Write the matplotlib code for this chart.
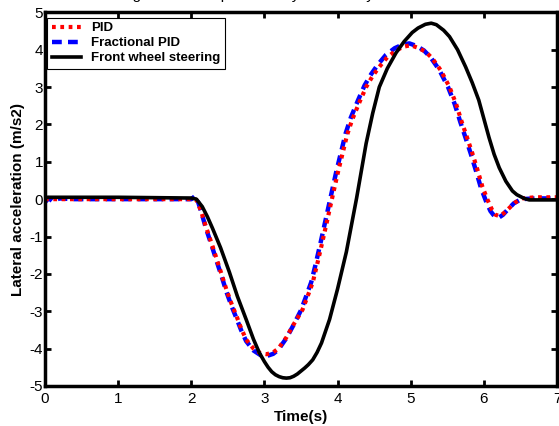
import matplotlib.pyplot as plt

plt.rcParams['font.family'] = ['Liberation Sans', 'DejaVu Sans']
plt.rcParams['axes.unicode_minus'] = False

# front wheel steering (black)
t_fws = [0.0, 1.0, 2.0, 2.07, 2.15, 2.22, 2.29, 2.4, 2.52, 2.63, 2.75, 2.85, 2.93, 3.0, 3.05,
         3.1, 3.15, 3.2, 3.25, 3.3, 3.35, 3.4, 3.45, 3.5, 3.55, 3.6, 3.66, 3.72, 3.78,
         3.89, 4.0, 4.12, 4.26, 4.39, 4.48, 4.57, 4.68, 4.8, 4.91, 5.02, 5.1, 5.2,
         5.28, 5.35, 5.45, 5.53, 5.64, 5.75, 5.84, 5.93, 6.0, 6.07, 6.14, 6.21, 6.3,
         6.39, 6.45, 6.55, 6.62, 7.0]
a_fws = [0.05, 0.05, 0.03, 0.0, -0.2, -0.47, -0.78, -1.3, -1.95, -2.6, -3.22, -3.75, -4.11, -4.35, -4.5,
         -4.62, -4.7, -4.75, -4.78, -4.79, -4.78, -4.74, -4.68, -4.6, -4.52, -4.43, -4.3, -4.1, -3.85,
         -3.22, -2.4, -1.41, 0.03, 1.49, 2.3, 3.0, 3.5, 3.92, 4.22, 4.46, 4.58, 4.68,
         4.71, 4.67, 4.52, 4.35, 4.0, 3.54, 3.12, 2.65, 2.15, 1.65, 1.2, 0.84, 0.48,
         0.22, 0.12, 0.02, -0.02, -0.02]

# PID (red dotted)
t_pid = [0.0, 1.0, 2.0, 2.07, 2.13, 2.2, 2.28, 2.35, 2.42, 2.48, 2.55, 2.62, 2.68, 2.75,
         2.85, 2.95, 3.03, 3.12, 3.19, 3.3, 3.4, 3.52, 3.59, 3.66, 3.72, 3.79, 3.86,
         3.93, 4.0, 4.07, 4.13, 4.2, 4.3, 4.39, 4.48, 4.57, 4.68, 4.8, 4.9, 5.0, 5.1,
         5.2, 5.29, 5.41, 5.53, 5.62, 5.7, 5.77, 5.84, 5.91, 5.98, 6.05, 6.11, 6.16,
         6.21, 6.27, 6.34, 6.42, 6.52, 6.7, 7.0]
a_pid = [0.0, 0.0, 0.0, -0.02, -0.3, -0.74, -1.2, -1.62, -2.05, -2.42, -2.8, -3.14, -3.45, -3.76,
         -4.0, -4.13, -4.15, -4.1, -4.0, -3.7, -3.35, -2.96, -2.6, -2.23, -1.75, -1.16, -0.55,
         0.07, 0.68, 1.24, 1.72, 2.13, 2.6, 3.0, 3.3, 3.54, 3.8, 3.98, 4.08, 4.12, 4.05,
         3.95, 3.78, 3.45, 3.0, 2.55, 2.05, 1.65, 1.24, 0.8, 0.33, -0.02, -0.28, -0.42,
         -0.45, -0.38, -0.25, -0.1, 0.02, 0.05, 0.05]

# fractional PID (blue dashed)
t_fpid = [0.0, 0.05, 0.1, 0.2, 0.4, 1.0, 2.0, 2.05, 2.08, 2.13, 2.2, 2.28, 2.35, 2.42, 2.48,
          2.55, 2.62, 2.68, 2.75, 2.85, 2.95, 3.03, 3.12, 3.19, 3.3, 3.4, 3.5, 3.57,
          3.64, 3.7, 3.77, 3.84, 3.91, 3.98, 4.05, 4.11, 4.18, 4.28, 4.37, 4.46, 4.55,
          4.66, 4.78, 4.88, 4.98, 5.08, 5.18, 5.27, 5.39, 5.51, 5.6, 5.68, 5.75, 5.82,
          5.89, 5.96, 6.03, 6.09, 6.15, 6.2, 6.26, 6.33, 6.41, 6.51, 6.7, 7.0]
a_fpid = [-0.08, 0.03, -0.05, 0.02, 0.0, 0.0, 0.0, 0.08, 0.0, -0.3, -0.78, -1.25, -1.68, -2.1, -2.48,
          -2.86, -3.2, -3.5, -3.8, -4.05, -4.18, -4.2, -4.14, -4.03, -3.72, -3.36, -2.97, -2.6,
          -2.22, -1.74, -1.14, -0.52, 0.1, 0.72, 1.28, 1.76, 2.18, 2.65, 3.05, 3.35, 3.6,
          3.86, 4.04, 4.13, 4.17, 4.1, 3.98, 3.8, 3.46, 3.0, 2.55, 2.05, 1.64, 1.22,
          0.77, 0.3, -0.06, -0.32, -0.47, -0.5, -0.42, -0.27, -0.11, 0.0, 0.02, 0.02]

fig = plt.figure(figsize=(5.59, 4.26), dpi=100)
ax = fig.add_axes([0.0805, 0.094, 0.916, 0.877])

l_fpid, = ax.plot(t_fpid, a_fpid, color='#0000ff', lw=3.2, ls=(0, (2.2, 1.4)),
                  label='Fractional PID')
l_pid, = ax.plot(t_pid, a_pid, color='#ff0000', lw=3.0, ls=(0, (0.9, 1.1)), label='PID')
l_fws, = ax.plot(t_fws, a_fws, color='black', lw=2.6, label='Front wheel steering')

ax.set_xlim(0, 7)
ax.set_ylim(-5, 5)
ax.set_xticks(range(0, 8))
ax.set_yticks(range(-5, 6))

for s in ax.spines.values():
    s.set_linewidth(2.5)
ax.tick_params(direction='in', length=4, width=2, top=True, right=True,
               labelsize=11, pad=1.5)
ax.tick_params(axis='x', pad=4)

ax.set_xlabel('Time(s)', fontsize=11, fontweight='bold', labelpad=3)
ax.set_ylabel('Lateral acceleration (m/s2)', fontsize=11, fontweight='bold', labelpad=3)

leg = ax.legend(handles=[l_pid, l_fpid, l_fws], loc='upper left',
                bbox_to_anchor=(0.004, 0.986), fancybox=False, framealpha=1,
                edgecolor='black', prop={'weight': 'bold', 'size': 9.5},
                handlelength=2.2, handletextpad=0.8, labelspacing=0.2,
                borderpad=0.35, borderaxespad=0.0)
leg.get_frame().set_linewidth(0.8)

# title sits mostly above the top edge, only the descenders show
fig.text(0.215, 1.003, 'Figure 9.  Comparison of yaw velocity', fontsize=11,
         ha='left', va='baseline')

fig.savefig('out.png', dpi=100)
